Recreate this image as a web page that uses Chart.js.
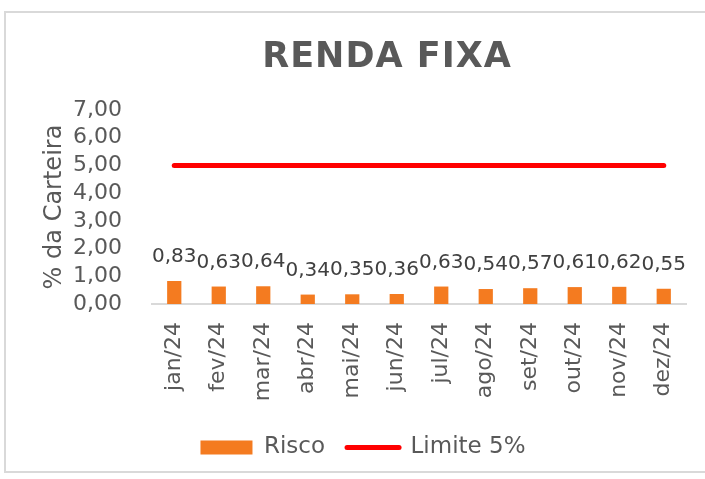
<!DOCTYPE html>
<html>
<head>
<meta charset="utf-8">
<script src="https://cdn.jsdelivr.net/npm/chart.js@4.4.1/dist/chart.umd.min.js"></script>
<style>
  html, body { margin: 0; padding: 0; background: #fff; }
  #wrap { position: relative; width: 705px; height: 479px; overflow: hidden; }
  #frame { position: absolute; left: 4px; top: 11px; width: 720px; height: 462px; border: 2px solid #d9d9d9; box-sizing: border-box; }
  #chart { position: absolute; left: 0; top: 0; }
</style>
</head>
<body>
<div id="wrap">
  <div id="frame"></div>
  <canvas id="chart" width="705" height="479"></canvas>
</div>
<script>
const chartTitle = 'RENDA FIXA';
const months = ['jan/24', 'fev/24', 'mar/24', 'abr/24', 'mai/24', 'jun/24',
                'jul/24', 'ago/24', 'set/24', 'out/24', 'nov/24', 'dez/24'];
const risco = [0.83, 0.63, 0.64, 0.34, 0.35, 0.36, 0.63, 0.54, 0.57, 0.61, 0.62, 0.55];
const limite = [5, 5, 5, 5, 5, 5, 5, 5, 5, 5, 5, 5];
const yTicks = [0, 1, 2, 3, 4, 5, 6, 7];

const FONT = "'DejaVu Sans', sans-serif";
const textColor = '#595959';

function fmt(v) {
    return v.toFixed(2).replace('.', ',');
}

// value over each bar
const barLabels = {
    id: 'barLabels',
    afterDatasetsDraw(chart) {
        const ctx = chart.ctx;
        const meta = chart.getDatasetMeta(0);
        ctx.save();
        ctx.font = '20px ' + FONT;
        ctx.fillStyle = '#404040';
        ctx.textAlign = 'center';
        ctx.textBaseline = 'alphabetic';
        meta.data.forEach((bar, i) => {
            ctx.fillText(fmt(risco[i]), bar.x, bar.y - 19);
        });
        ctx.restore();
    }
};

// the title sits a bit right of the canvas centre, so draw it here
const titleText = {
    id: 'titleText',
    afterDraw(chart) {
        const ctx = chart.ctx;
        ctx.save();
        ctx.font = 'bold 35px ' + FONT;
        ctx.letterSpacing = '1px';
        ctx.fillStyle = textColor;
        ctx.textAlign = 'center';
        ctx.textBaseline = 'middle';
        ctx.fillText(chartTitle, 387, 58);
        ctx.restore();
    }
};

const ctx = document.getElementById('chart').getContext('2d');
new Chart(ctx, {
    type: 'bar',
    data: {
        labels: months,
        datasets: [{
            label: 'Risco',
            data: risco,
            backgroundColor: '#f47b20',
            borderWidth: 0,
            barPercentage: 0.32,
            categoryPercentage: 1
        }, {
            type: 'line',
            label: 'Limite 5%',
            data: limite,
            borderColor: '#ff0000',
            backgroundColor: '#ff0000',
            borderWidth: 5,
            borderCapStyle: 'round',
            pointRadius: 0,
            fill: false
        }]
    },
    options: {
        responsive: false,
        animation: false,
        layout: {
            padding: { left: 40, right: 19, top: 110, bottom: 10 }
        },
        scales: {
            x: {
                grid: { display: false },
                border: { color: '#d9d9d9', width: 2 },
                ticks: {
                    color: textColor,
                    font: { family: FONT, size: 22 },
                    maxRotation: 90,
                    minRotation: 90,
                    autoSkip: false,
                    padding: 10
                },
                afterFit(scale) { scale.height = 110; }
            },
            y: {
                min: 0,
                max: 7,
                grid: { display: false },
                border: { display: false },
                afterBuildTicks(scale) {
                    scale.ticks = yTicks.map(v => ({ value: v }));
                },
                ticks: {
                    color: textColor,
                    font: { family: FONT, size: 22, lineHeight: 1 },
                    autoSkip: false,
                    padding: 22,
                    callback: v => fmt(v)
                },
                title: {
                    display: true,
                    text: '% da Carteira',
                    color: textColor,
                    font: { family: FONT, size: 24 },
                    padding: { top: 0, bottom: 0 }
                },
                afterFit(scale) { scale.width = 112; }
            }
        },
        plugins: {
            title: { display: false },
            legend: {
                position: 'bottom',
                labels: {
                    color: textColor,
                    font: { family: FONT, size: 23 },
                    usePointStyle: true,
                    pointStyleWidth: 52,
                    boxHeight: 14,
                    padding: 22,
                    generateLabels(chart) {
                        const items = Chart.defaults.plugins.legend.labels.generateLabels(chart);
                        return items.map(item => {
                            if (item.datasetIndex === 1) {
                                item.pointStyle = 'line';
                                item.lineWidth = 5;
                                item.lineCap = 'round';
                            } else {
                                item.pointStyle = 'rect';
                                item.lineWidth = 0;
                            }
                            return item;
                        });
                    }
                }
            },
            tooltip: { enabled: false }
        }
    },
    plugins: [barLabels, titleText]
});
</script>
</body>
</html>
